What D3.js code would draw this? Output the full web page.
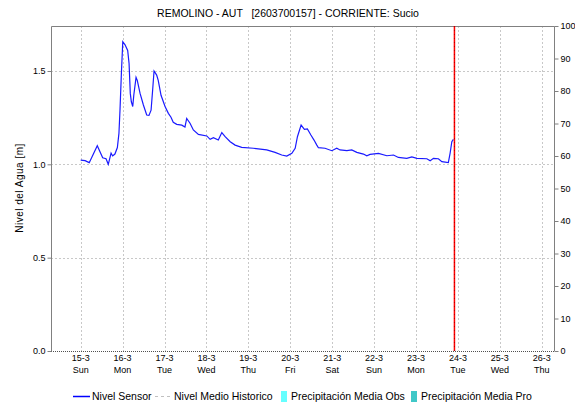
<!DOCTYPE html>
<html>
<head>
<meta charset="utf-8">
<script src="https://cdn.jsdelivr.net/npm/d3@7"></script>
<style>
  body { margin: 0; background: #fff; }
  svg { display: block; font-family: "Liberation Sans", Arial, sans-serif; }
</style>
</head>
<body>
<svg id="chart" width="575" height="404"></svg>
<script>
// ----- Data (hours after 15-3 00:00, water level in metres)
const sensor_hours = [0, 2.5, 4.9, 9.5, 12.6, 14.5, 15.8, 17.4, 18.3, 19.6, 21, 21.9, 22.5, 23.3, 24.1,
    25.4, 26.9, 27.7, 28.4, 29, 29.8, 30.4, 31.7, 32.4, 34, 35.9, 37.8, 39.1, 40.3, 41.2, 42,
    43.5, 44.4, 46, 48.3, 50.2, 51.7, 53, 55, 57.9, 59.7, 60.7, 62.6, 64.5, 67.4, 72.2, 74.1,
    76, 78.8, 80.8, 82.7, 85.6, 88.4, 92.2, 98.9, 106.5, 111.3, 115.1, 118, 120.9, 122.8,
    124.1, 126.2, 128.1, 129.8, 131.8, 133.6, 135.2, 136.1, 139.9, 143.8, 146.6, 148.5,
    152.4, 155.2, 158.1, 161.9, 163.8, 165.7, 170.5, 175.3, 179.1, 181.9, 186.7, 189.6,
    192.5, 198.2, 200.1, 202, 204.8, 206.8, 210.5, 211.5, 212.5, 213.4];
const sensor_values = [1.023, 1.02, 1.009, 1.10, 1.035, 1.03, 1.0, 1.06, 1.045, 1.055, 1.09, 1.166,
    1.29, 1.487, 1.657, 1.64, 1.61, 1.54, 1.38, 1.335, 1.31, 1.37, 1.466, 1.45, 1.38, 1.318,
    1.264, 1.262, 1.29, 1.398, 1.50, 1.478, 1.45, 1.37, 1.31, 1.273, 1.252, 1.225, 1.214,
    1.21, 1.20, 1.246, 1.22, 1.184, 1.16, 1.152, 1.134, 1.143, 1.13, 1.17, 1.148, 1.121,
    1.103, 1.091, 1.086, 1.077, 1.064, 1.05, 1.044, 1.059, 1.086, 1.148, 1.21, 1.187, 1.19,
    1.157, 1.13, 1.103, 1.089, 1.086, 1.073, 1.086, 1.077, 1.073, 1.077, 1.064, 1.055, 1.046,
    1.053, 1.059, 1.046, 1.05, 1.037, 1.032, 1.04, 1.032, 1.03, 1.019, 1.032, 1.03, 1.014,
    1.009, 1.059, 1.121, 1.134];

// Day tick labels
const day_labels = ["15-3", "16-3", "17-3", "18-3", "19-3", "20-3", "21-3", "22-3", "23-3", "24-3", "25-3", "26-3"];
const weekday_labels = ["Sun", "Mon", "Tue", "Wed", "Thu", "Fri", "Sat", "Sun", "Mon", "Tue", "Wed", "Thu"];
const level_ticks = [0, 0.5, 1.0, 1.5];
const precip_ticks = [0, 10, 20, 30, 40, 50, 60, 70, 80, 90, 100];
const now_hour = 214;

const legend_items = [
    { label: "Nivel Sensor", kind: "line", color: "#0000ff" },
    { label: "Nivel Medio Historico", kind: "dash", color: "#c0c0c0" },
    { label: "Precipitación Media Obs", kind: "box", color: "#66ffff" },
    { label: "Precipitación Media Pro", kind: "box", color: "#40c8c8" }
];

// ----- Layout
const svg = d3.select("#chart");
const plot_left = 51, plot_right = 554, plot_top = 26, plot_bottom = 351;

const x = d3.scaleLinear().domain([-17, 271]).range([plot_left, plot_right]);
const y = d3.scaleLinear().domain([0, 1.741]).range([plot_bottom, plot_top]);
const y2 = d3.scaleLinear().domain([0, 100]).range([plot_bottom, plot_top]);

// Title
svg.append("text")
    .attr("x", 288).attr("y", 17)
    .attr("text-anchor", "middle")
    .attr("xml:space", "preserve")
    .style("font-size", "10.5px")
    .attr("fill", "#000")
    .text("REMOLINO - AUT   [2603700157] - CORRIENTE: Sucio");

// Grid lines
const day_hours = day_labels.map((d, i) => i * 24);
svg.append("g").selectAll("line")
    .data(day_hours)
    .enter().append("line")
    .attr("x1", d => Math.round(x(d)) + 0.5).attr("x2", d => Math.round(x(d)) + 0.5)
    .attr("y1", plot_top).attr("y2", plot_bottom)
    .attr("stroke", "#c8c8c8").attr("stroke-dasharray", "2,2");

svg.append("g").selectAll("line")
    .data(level_ticks.filter(d => d > 0))
    .enter().append("line")
    .attr("x1", plot_left).attr("x2", plot_right)
    .attr("y1", d => Math.round(y(d)) + 0.5).attr("y2", d => Math.round(y(d)) + 0.5)
    .attr("stroke", "#c8c8c8").attr("stroke-dasharray", "2,2");

// Frame
svg.append("path")
    .attr("d", `M${plot_left + 0.5},${plot_bottom}V${plot_top + 0.5}H${plot_right + 0.5}V${plot_bottom}`)
    .attr("fill", "none").attr("stroke", "#808080");
svg.append("line")
    .attr("x1", plot_left).attr("x2", plot_right)
    .attr("y1", plot_bottom + 0.5).attr("y2", plot_bottom + 0.5)
    .attr("stroke", "#505050").attr("stroke-dasharray", "1,1");

// Left axis
const left_axis = svg.append("g")
    .attr("transform", `translate(${plot_left + 0.5},0)`)
    .call(d3.axisLeft(y).tickValues(level_ticks).tickFormat(d3.format(".1f")).tickSize(4).tickPadding(2));
left_axis.select(".domain").remove();
left_axis.selectAll("line").attr("stroke", "#808080");
left_axis.selectAll("text").style("font-size", "9px").attr("fill", "#000");

// Right axis
const right_axis = svg.append("g")
    .attr("transform", `translate(${plot_right + 0.5},0)`)
    .call(d3.axisRight(y2).tickValues(precip_ticks).tickSize(4).tickPadding(2));
right_axis.select(".domain").remove();
right_axis.selectAll("line").attr("stroke", "#808080");
right_axis.selectAll("text").style("font-size", "9px").attr("fill", "#000");

// X labels
const x_labels = svg.append("g").selectAll("text")
    .data(day_labels)
    .enter().append("text")
    .attr("text-anchor", "middle")
    .style("font-size", "9px");
x_labels.append("tspan").attr("x", (d, i) => x(day_hours[i])).attr("y", 361).text(d => d);
x_labels.append("tspan").attr("x", (d, i) => x(day_hours[i])).attr("y", 373).text((d, i) => weekday_labels[i]);

// Y title
svg.append("text")
    .attr("transform", "translate(23,188) rotate(-90)")
    .attr("text-anchor", "middle")
    .style("font-size", "10px")
    .style("letter-spacing", "0.5px")
    .text("Nivel del Agua [m]");

// Sensor line
const sensor_data = sensor_hours.map((h, i) => ({ h: h, v: sensor_values[i] }));
svg.append("path")
    .datum(sensor_data)
    .attr("d", d3.line().x(d => x(d.h)).y(d => y(d.v)))
    .attr("fill", "none")
    .attr("stroke", "#1a1aff")
    .attr("stroke-width", 1.2);

// Now marker
svg.append("line")
    .attr("x1", x(now_hour)).attr("x2", x(now_hour))
    .attr("y1", plot_top).attr("y2", plot_bottom)
    .attr("stroke", "#ff0000").attr("stroke-width", 1.5);
svg.append("line")
    .attr("x1", x(now_hour)).attr("x2", x(now_hour))
    .attr("y1", plot_top).attr("y2", plot_bottom)
    .attr("stroke", "#b00000").attr("stroke-width", 1).attr("stroke-dasharray", "1,3");

// Legend
const legend_x = [73, 155, 281, 411];
const legend = svg.append("g").selectAll("g")
    .data(legend_items)
    .enter().append("g")
    .attr("transform", (d, i) => `translate(${legend_x[i]},396)`);
legend.filter(d => d.kind !== "box").append("line")
    .attr("x1", 0).attr("x2", 17).attr("y1", 0.5).attr("y2", 0.5)
    .attr("stroke", d => d.color)
    .attr("stroke-width", d => d.kind === "line" ? 1.5 : 1)
    .attr("stroke-dasharray", d => d.kind === "dash" ? "3,3" : null);
legend.filter(d => d.kind === "box").append("rect")
    .attr("x", 0).attr("y", -5).attr("width", 6).attr("height", 11)
    .attr("fill", d => d.color);
legend.append("text")
    .attr("x", d => d.kind === "box" ? 10 : 19)
    .attr("y", 4)
    .style("font-size", "10.5px")
    .attr("fill", "#000")
    .text(d => d.label);
</script>
</body>
</html>
